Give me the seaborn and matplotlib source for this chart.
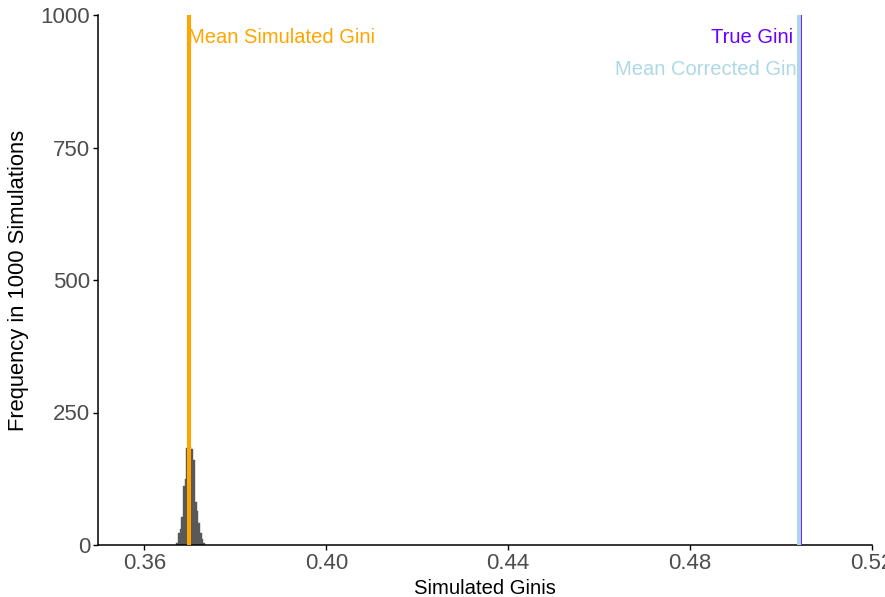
import matplotlib
matplotlib.use("Agg")
import matplotlib.pyplot as plt
import numpy as np
import pandas as pd
import seaborn as sns

# Histogram of simulated Gini coefficients (bin edges and counts)
bin_start = 0.366967
bin_width = 0.000374
counts = [4, 23, 30, 52, 112, 125, 183, 185, 185, 181, 160, 81, 64, 42, 23, 11, 4]

# Reference values
mean_simulated_gini = 0.36985
true_gini = 0.50418
mean_corrected_gini = 0.50396

x_ticks = [0.36, 0.40, 0.44, 0.48, 0.52]
y_ticks = [0, 250, 500, 750, 1000]

sns.set_theme(style="ticks")
plt.rcParams["font.family"] = ["Liberation Sans", "DejaVu Sans"]

edges = bin_start + bin_width * np.arange(len(counts) + 1)
centers = (edges[:-1] + edges[1:]) / 2
hist_df = pd.DataFrame({"gini": centers, "count": counts})

fig = plt.figure(figsize=(8.85, 5.97), dpi=100)
ax = fig.add_axes([98 / 885, 1 - 545 / 597, (872 - 98) / 885, (545 - 15) / 597])

sns.histplot(data=hist_df, x="gini", weights="count", bins=edges.tolist(),
             color="#595959", edgecolor="#595959", linewidth=0.3, alpha=1,
             ax=ax, zorder=2)

ax.axvline(mean_simulated_gini, color="#FFA500", lw=2.9, zorder=4)
ax.axvline(true_gini, color="#7A1FF5", lw=2.9, zorder=4)
ax.axvline(mean_corrected_gini, color="#B0D4E8", lw=2.9, zorder=5)

ax.annotate("Mean Simulated Gini", xy=(mean_simulated_gini, 958), xytext=(-1, 0),
            textcoords="offset points", ha="left", va="center",
            color="#FFA500", fontsize=14.5, zorder=3)
ax.annotate("True Gini", xy=(mean_corrected_gini, 958), xytext=(-4.5, 0),
            textcoords="offset points", ha="right", va="center",
            color="#6A00FF", fontsize=14.5, zorder=3)
ax.annotate("Mean Corrected Gini", xy=(mean_corrected_gini, 898), xytext=(1.2, 0),
            textcoords="offset points", ha="right", va="center",
            color="#ADD8E6", fontsize=14.5, zorder=3)

ax.set_xlim(0.36 - (144.5 - 98) / 4550, 0.52)
ax.set_ylim(0, 1000)
ax.set_xticks(x_ticks)
ax.set_xticklabels([f"{t:.2f}" for t in x_ticks])
ax.set_yticks(y_ticks)
ax.set_yticklabels([str(t) for t in y_ticks])

ax.set_xlabel("Simulated Ginis", fontsize=14.6, color="black")
ax.set_ylabel("Frequency in 1000 Simulations", fontsize=15.8, color="black")
ax.xaxis.set_label_coords(0.5, -(588 - 545) / 530)
ax.xaxis.label.set_verticalalignment("center")
ax.yaxis.set_label_coords((18 - 98) / 774, 0.5)
ax.yaxis.label.set_verticalalignment("center")

ax.tick_params(axis="both", which="major", labelsize=16, labelcolor="#4D4D4D",
               color="black", length=3.5, width=1.0, pad=2)
for side in ("top", "right"):
    ax.spines[side].set_visible(False)
for side in ("left", "bottom"):
    ax.spines[side].set_color("black")
    ax.spines[side].set_linewidth(1.1)
ax.grid(False)
ax.set_facecolor("white")

for lbl in ax.get_xticklabels():
    lbl.set_clip_on(False)

fig.savefig("out.png", dpi=100, facecolor="white")
